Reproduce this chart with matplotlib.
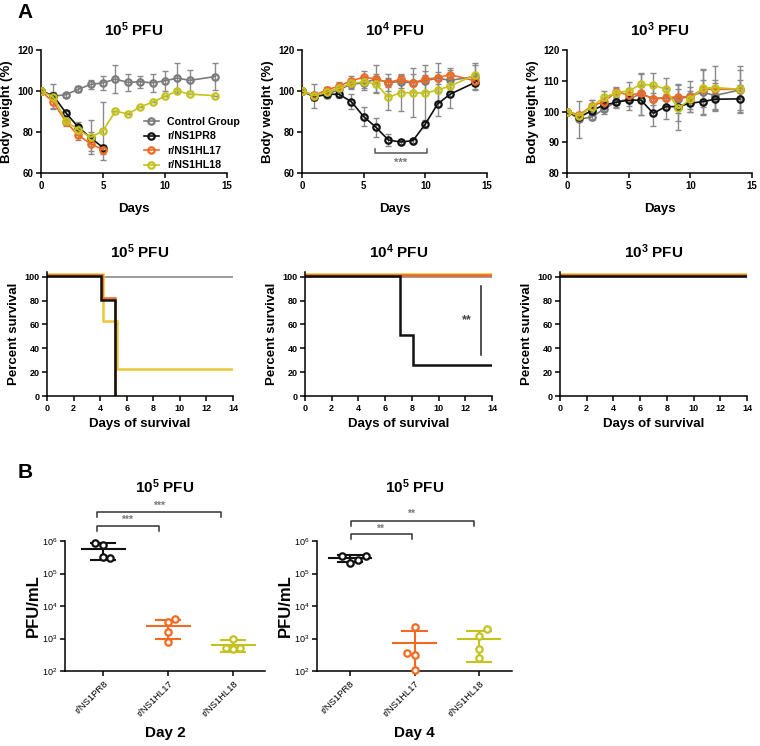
import matplotlib
matplotlib.use("Agg")
import matplotlib.pyplot as plt
import matplotlib.transforms as mtransforms
import numpy as np

plt.rcParams['font.family'] = ['Liberation Sans', 'DejaVu Sans']
plt.rcParams['font.weight'] = 'bold'
plt.rcParams['mathtext.fontset'] = 'custom'
plt.rcParams['mathtext.rm'] = 'Liberation Sans'
plt.rcParams['mathtext.bf'] = 'Liberation Sans:bold'
plt.rcParams['axes.linewidth'] = 1.1

# --- DATA ---
groups = ['Control Group', 'r/NS1PR8', 'r/NS1HL17', 'r/NS1HL18']
days = [0, 1, 2, 3, 4, 5, 6, 7, 8, 9, 10, 11, 12, 14]

# body weight (%), control group is shared by all doses
ctrl_bw = [100, 97.5, 98.2, 100.8, 103.2, 104.0, 105.8, 104.2, 104.5, 104.0, 105.0, 106.3, 105.2, 107.0]
ctrl_sd = [0, 6, 1, 1.5, 2, 3.5, 6.8, 4, 3, 4.5, 5, 7.5, 5, 6.5]

# 10^5 PFU
bw5_pr8 = [100, 97.7, 89.4, 82.4, 77.2, 72.4]
bw5_pr8_sd = [0, 2, 1.5, 2.5, 3, 1.5]
bw5_hl17 = [100, 94.5, 85.0, 78.4, 74.3, 71.4]
bw5_hl17_sd = [0, 3.5, 2, 2.5, 3.5, 2]
bw5_hl18 = [100, 97.1, 85.4, 81.1, 77.5, 80.5, 90.2, 88.8, 92.2, 94.6, 97.4, 100.0, 98.5, 97.7]
bw5_hl18_sd = [0, 2, 1.5, 2.5, 8.3, 14.2, 0, 0, 0, 0, 0, 0, 0, 0]

# 10^4 PFU
bw4_pr8 = [100, 97.1, 98.4, 98.4, 94.8, 87.5, 82.3, 76.1, 75.1, 75.8, 83.9, 93.7, 98.4, 104.1]
bw4_pr8_sd = [0, 1.5, 2, 2, 3.5, 4.5, 4.5, 3, 1, 1, 2, 6, 6.5, 3]
bw4_hl17 = [100, 97.9, 100.5, 102.4, 105.0, 106.7, 105.9, 104.1, 105.7, 104.1, 105.7, 106.5, 108.0, 105.0]
bw4_hl17_sd = [0, 1, 1.5, 2, 2.5, 3, 2.5, 2, 2, 1.5, 2, 3, 3, 2]
bw4_hl18 = [100, 97.7, 99.5, 101.3, 103.7, 104.5, 103.4, 96.9, 99.2, 99.2, 98.9, 100.5, 102.4, 107.8]
bw4_hl18_sd = [0, 2, 2.5, 1.5, 2, 3, 4, 6, 9, 12, 14, 6, 3, 5]

# 10^3 PFU
bw3_pr8 = [100, 98.1, 100.3, 102.1, 103.0, 103.7, 103.7, 99.4, 101.6, 101.6, 102.7, 103.2, 104.0, 104.1]
bw3_pr8_sd = [0, 1, 1.5, 2, 1.5, 2, 5, 4, 4, 7.5, 2, 4, 3.5, 4.5]
bw3_hl17 = [100, 98.9, 101.8, 103.2, 106.4, 105.4, 105.9, 104.0, 104.5, 104.8, 104.8, 107.2, 107.2, 107.2]
bw3_hl17_sd = [0, 1, 2, 1.5, 1.5, 2, 2, 2, 3, 2.5, 2, 3, 2, 3]
bw3_hl18 = [100, 98.5, 101.6, 104.6, 106.1, 106.7, 108.8, 108.6, 107.3, 101.0, 104.0, 107.5, 107.8, 107.2]
bw3_hl18_sd = [0, 1, 2, 2, 1.5, 3, 3.5, 4, 3.5, 4, 4, 6, 7, 7.5]

# survival: event days and percent survival after each event
s5_pr8_t, s5_pr8_p = [0, 4.1, 5.1], [100, 80, 0]
s5_hl17_t, s5_hl17_p = [0, 4.15, 5.15], [100, 80, 0]
s5_hl18_t, s5_hl18_p = [0, 4.25, 5.3], [100, 60, 20]
s4_pr8_t, s4_pr8_p = [0, 7.1, 8.1], [100, 50, 25]
s_all_t, s_all_p = [0], [100]

# viral titres (PFU/mL), individual mice
d2_pr8 = [8.5e5, 7.5e5, 3.2e5, 3.0e5]
d2_hl17 = [790, 1600, 3260, 3850]
d2_hl18 = [1000, 525, 470, 525]
d4_pr8 = [3.5e5, 2.15e5, 2.6e5, 3.5e5]
d4_hl17 = [2200, 350, 300, 107]
d4_hl18 = [1930, 1200, 460, 245]
virus_labels = ['r/NS1PR8', 'r/NS1HL17', 'r/NS1HL18']

# --- STYLE ---
colors = ['#7b7b7b', '#111111', '#f26a21', '#c3c21e']
err_color = '#8a8a8a'
W, H = 760, 746


def box(l, t, r, b):
    return [l / W, 1 - b / H, (r - l) / W, (b - t) / H]


def style_axes(ax, tick_size, bold=True):
    ax.spines['top'].set_visible(False)
    ax.spines['right'].set_visible(False)
    ax.tick_params(direction='out', length=3.5, width=1.1, labelsize=tick_size, pad=2)
    for lab in ax.get_xticklabels() + ax.get_yticklabels():
        lab.set_fontweight('bold' if bold else 'normal')


def pfu_title(ax, exp, y):
    ax.text(0.5, y, r'$\mathbf{10^{%d}}$ PFU' % exp, transform=ax.transAxes,
            ha='center', va='center', fontsize=11, fontweight='bold')


fig = plt.figure(figsize=(W / 100, H / 100), dpi=100)

# --- ROW 1: body weight ---
bw_panels = [
    (5, box(41, 50, 227, 173), (60, 120), [60, 80, 100, 120],
     [(days, ctrl_bw, ctrl_sd), (days[:6], bw5_pr8, bw5_pr8_sd),
      (days[:6], bw5_hl17, bw5_hl17_sd), (days, bw5_hl18, bw5_hl18_sd)]),
    (4, box(302, 50, 487, 173), (60, 120), [60, 80, 100, 120],
     [(days, ctrl_bw, ctrl_sd), (days, bw4_pr8, bw4_pr8_sd),
      (days, bw4_hl17, bw4_hl17_sd), (days, bw4_hl18, bw4_hl18_sd)]),
    (3, box(567, 50, 752, 173), (80, 120), [80, 90, 100, 110, 120],
     [(days, ctrl_bw, ctrl_sd), (days, bw3_pr8, bw3_pr8_sd),
      (days, bw3_hl17, bw3_hl17_sd), (days, bw3_hl18, bw3_hl18_sd)]),
]

bw_axes = []
for exp, pos, ylim, yticks, series in bw_panels:
    ax = fig.add_axes(pos)
    # draw yellow first, control last
    for i in [3, 2, 1, 0]:
        x, y, sd = series[i]
        ax.errorbar(x, y, yerr=sd, fmt='none', ecolor=err_color, elinewidth=1,
                    capsize=2.5, capthick=1, zorder=2 + i * 0.1)
        ax.plot(x, y, color=colors[i], lw=1.2, marker='o', ms=4.6, mfc='none',
                mec=colors[i], mew=1.6, label=groups[i], zorder=3 + i * 0.1)
    ax.set_xlim(0, 15)
    ax.set_ylim(*ylim)
    ax.set_xticks([0, 5, 10, 15])
    ax.set_yticks(yticks)
    ax.set_xlabel('Days', fontsize=9.5, fontweight='bold', labelpad=9)
    ax.set_ylabel('Body weight (%)', fontsize=9.5, fontweight='bold', labelpad=3)
    style_axes(ax, 7)
    pfu_title(ax, exp, 1.163)
    bw_axes.append(ax)

h, l = bw_axes[0].get_legend_handles_labels()
order = [l.index(g) for g in groups]
bw_axes[0].legend([h[k] for k in order], [l[k] for k in order], loc='upper left',
                  bbox_to_anchor=(0.53, 0.49), frameon=False,
                  handlelength=1.4, handletextpad=0.8, labelspacing=0.42,
                  borderaxespad=0, prop={'weight': 'bold', 'size': 7.7})

# significance bracket, 10^4 body weight
ax = bw_axes[1]
ax.plot([5.9, 5.9, 10.15, 10.15], [71.7, 69.6, 69.6, 71.7], color='#555555', lw=1.1)
ax.text(8.0, 65.0, '***', ha='center', va='center', fontsize=8, color='#777777')

# --- ROW 2: survival ---
surv_panels = [
    (5, box(47, 272, 233, 396),
     [(s_all_t, s_all_p), (s5_pr8_t, s5_pr8_p), (s5_hl17_t, s5_hl17_p), (s5_hl18_t, s5_hl18_p)]),
    (4, box(305, 272, 492, 396),
     [(s_all_t, s_all_p), (s4_pr8_t, s4_pr8_p), (s_all_t, s_all_p), (s_all_t, s_all_p)]),
    (3, box(560, 272, 747, 396),
     [(s_all_t, s_all_p), (s_all_t, s_all_p), (s_all_t, s_all_p), (s_all_t, s_all_p)]),
]
surv_offset = [0, 0.9, 1.8, 2.6]
surv_lw = [1.2, 1.8, 1.8, 1.8]
surv_colors = ['#8a8a8a', '#111111', '#ee6a22', '#e8c83a']

surv_axes = []
for exp, pos, series in surv_panels:
    ax = fig.add_axes(pos)
    for i in [0, 3, 2, 1]:
        t, p = series[i]
        t = list(t)
        p = [v + surv_offset[i] if v > 0 else v for v in p]
        if p[-1] > 0:
            t = t + [14]
            p = p + [p[-1]]
        ax.step(t, p, where='post', color=surv_colors[i], lw=surv_lw[i],
                solid_joinstyle='miter')
    ax.set_xlim(0, 14)
    ax.set_ylim(0, 104)
    ax.set_xticks(range(0, 15, 2))
    ax.set_yticks(range(0, 101, 20))
    ax.set_xlabel('Days of survival', fontsize=9.5, fontweight='bold', labelpad=4)
    ax.set_ylabel('Percent survival', fontsize=9.5, fontweight='bold', labelpad=3)
    style_axes(ax, 6.5)
    pfu_title(ax, exp, 1.161)
    surv_axes.append(ax)

ax = surv_axes[1]
ax.plot([13.2, 13.2], [34, 92], color='#222222', lw=1.1)
ax.text(12.15, 63.5, '**', ha='center', va='center', fontsize=9, color='#444444')

# --- ROW 3: viral titres ---
titre_panels = [
    ('Day 2', box(65, 541, 265, 671), (-0.585, 2.49), [d2_pr8, d2_hl17, d2_hl18],
     [[-0.12, 0, 0, 0.11], [0, 0, 0, 0.11], [0, -0.11, 0, 0.11]],
     [(-0.09, 1.82, 1.221, 1.187, '***', 0.86, 1.271),
      (-0.09, 0.86, 1.115, 1.079, '***', 0.37, 1.162)]),
    ('Day 4', box(317, 541, 512, 671), (-0.51, 2.51), [d4_pr8, d4_hl17, d4_hl18],
     [[-0.12, 0, 0.12, 0.25], [0, -0.12, 0, 0], [0.12, 0, 0, 0]],
     [(0.015, 1.92, 1.154, 1.115, '**', 0.95, 1.208),
      (0.015, 0.96, 1.052, 1.015, '**', 0.47, 1.092)]),
]
titre_colors = ['#111111', '#f26a21', '#c3c21e']

for day_label, pos, xlim, sets, jitter, brackets in titre_panels:
    ax = fig.add_axes(pos)
    ax.set_yscale('log')
    for k, vals in enumerate(sets):
        vals = np.array(vals)
        m = vals.mean()
        sd = vals.std(ddof=1)
        c = titre_colors[k]
        ax.plot([k - 0.33, k + 0.33], [m, m], color=c, lw=1.5, zorder=3)
        lo = max(m - sd, 100)
        ax.plot([k, k], [lo, m + sd], color=c, lw=1.5, zorder=3)
        ax.plot([k - 0.19, k + 0.19], [m + sd, m + sd], color=c, lw=1.5, zorder=3)
        if m - sd > 100:
            ax.plot([k - 0.19, k + 0.19], [m - sd, m - sd], color=c, lw=1.5, zorder=3)
        ax.plot(k + np.array(jitter[k]), vals, 'o', ms=4.6, mfc='white', mec=c,
                mew=1.6, zorder=4, clip_on=False)
    ax.set_ylim(1e2, 1e6)
    ax.set_xlim(*xlim)
    ax.set_xticks(range(3))
    ax.set_xticklabels(virus_labels, rotation=45, ha='right', rotation_mode='anchor')
    ax.set_ylabel('PFU/mL', fontsize=12, fontweight='bold', labelpad=1)
    ax.set_xlabel(day_label, fontsize=11, fontweight='bold', labelpad=6)
    ax.minorticks_off()
    style_axes(ax, 6.8, bold=False)
    ax.tick_params(axis='y', labelsize=6.5)
    pfu_title(ax, 5, 1.415)
    trans = mtransforms.blended_transform_factory(ax.transData, ax.transAxes)
    for x0, x1, yb, yt, star, xs, ys in brackets:
        ax.plot([x0, x0, x1, x1], [yt, yb, yb, yt], color='#333333', lw=1.1,
                transform=trans, clip_on=False)
        ax.text(xs, ys, star, transform=trans, ha='center', va='center',
                fontsize=7.5, color='#777777')

fig.text(25 / W, 1 - 13 / H, 'A', fontsize=15, fontweight='bold', ha='center', va='center')
fig.text(25 / W, 1 - 472 / H, 'B', fontsize=15, fontweight='bold', ha='center', va='center')

fig.savefig('out.png', dpi=100)
